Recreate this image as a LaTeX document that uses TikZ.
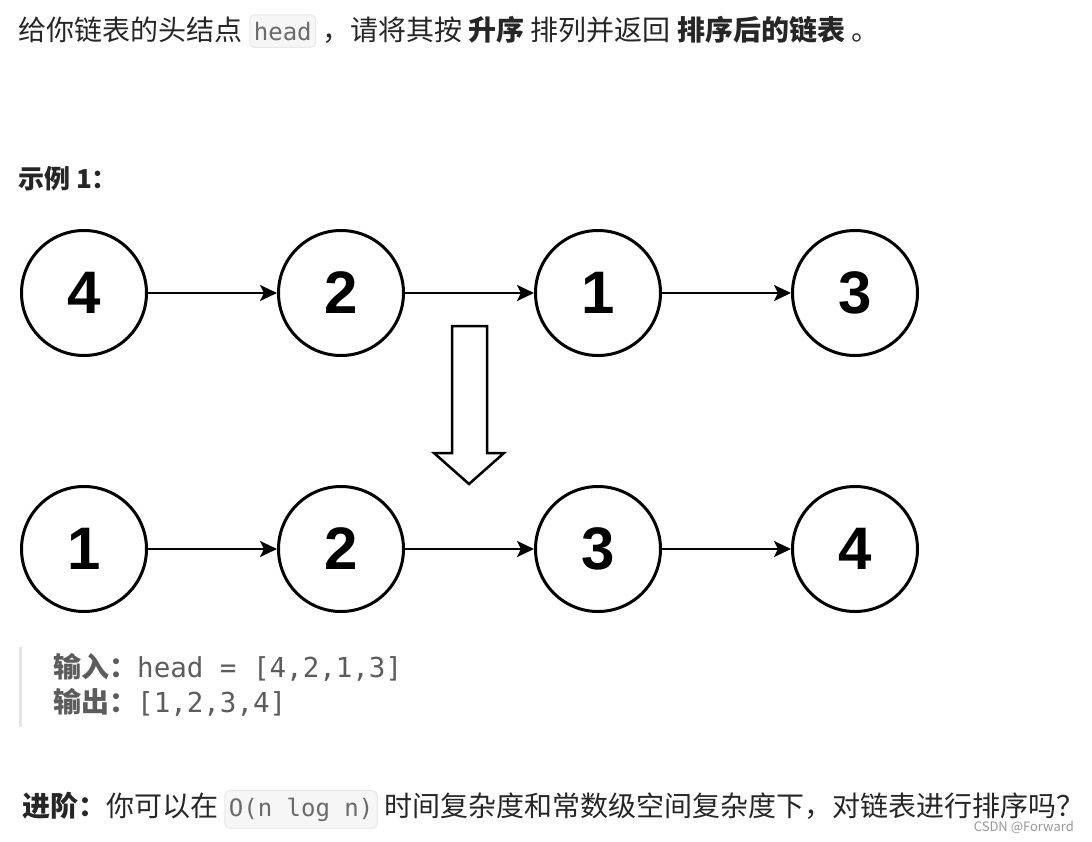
\documentclass[tikz,border=0pt]{standalone}
\usepackage{fontspec}
\setmainfont{Noto Sans CJK SC}
\setmonofont{DejaVu Sans Mono}
\newfontfamily\numfont{Liberation Sans}
\definecolor{Ink}{HTML}{262626}
\definecolor{Quote}{HTML}{5C5C5C}
\definecolor{QuoteBar}{HTML}{E4E4E4}
\definecolor{CodeFill}{HTML}{F6F6F6}
\definecolor{CodeLine}{HTML}{E8E8E8}
\definecolor{CodeText}{HTML}{6A6A6A}
\usetikzlibrary{arrows.meta,positioning}

\begin{document}
\begin{tikzpicture}[
  x=1pt,y=-1pt,
  txt/.style={inner sep=0pt,text=Ink,font=\fontsize{28}{32}\selectfont},
  quote/.style={inner sep=0pt,text=Quote,font=\fontsize{28}{32}\selectfont},
  code/.style={rounded corners=5pt,fill=CodeFill,draw=CodeLine,line width=1pt,
    text=CodeText,inner xsep=4pt,inner ysep=7pt,font=\ttfamily\fontsize{24}{28}\selectfont},
  listnode/.style={circle,draw=black,line width=3pt,minimum size=125pt,inner sep=0pt,
    font=\numfont\bfseries\fontsize{60}{60}\selectfont},
  arrow/.style={-{Stealth[length=17pt,width=16pt,inset=4pt]},line width=2.7pt,draw=black},
  hollow/.style={draw=black,line width=2.5pt,fill=white,line join=miter}
]
\fill[white] (0,0) rectangle (1092,841);
\useasboundingbox (0,0) rectangle (1092,841);

% problem statement
\node[txt,anchor=base west] (introa) at (18,40) {给你链表的头结点};
\node[code,anchor=base west] (headcode) at ([xshift=7pt]introa.base east) {head};
\node[txt,anchor=base west] (introb) at ([xshift=6pt]headcode.base east)
  {，请将其按 \textbf{升序} 排列并返回 \textbf{排序后的链表} 。};

\node[txt,anchor=base west,font=\bfseries\fontsize{26}{30}\selectfont] (example) at (18,188) {示例 1：};

% input list
\node[listnode] (in1) at (84,293) {4};
\node[listnode,right=129pt of in1] (in2) {2};
\node[listnode,right=129pt of in2] (in3) {1};
\node[listnode,right=129pt of in3] (in4) {3};

% sorted list
\node[listnode] (out1) at (84,549) {1};
\node[listnode,right=129pt of out1] (out2) {2};
\node[listnode,right=129pt of out2] (out3) {3};
\node[listnode,right=129pt of out3] (out4) {4};

\draw[arrow] (in1) -- (in2);
\draw[arrow] (in2) -- (in3);
\draw[arrow] (in3) -- (in4);
\draw[arrow] (out1) -- (out2);
\draw[arrow] (out2) -- (out3);
\draw[arrow] (out3) -- (out4);

% sort arrow
\draw[hollow] (452,326) -- (487,326) -- (487,453) -- (504,453) -- (469,484)
  -- (434,453) -- (452,453) -- cycle;

% input / output block
\fill[QuoteBar] (18.5,647) rectangle (21.5,727);
\node[quote,anchor=base west] (inputline) at (53,677)
  {\textbf{输入：}\texttt{\fontsize{27.5}{32}\selectfont head = [4,2,1,3]}};
\node[quote,anchor=base west] (outputline) at (53,712)
  {\textbf{输出：}\texttt{\fontsize{27.5}{32}\selectfont [1,2,3,4]}};

% follow-up
\node[txt,anchor=base west] (followa) at (22,816) {\textbf{进阶：}你可以在};
\node[code,anchor=base west] (bigo) at ([xshift=6pt]followa.base east) {O(n log n)};
\node[txt,anchor=base west] (followb) at ([xshift=6pt]bigo.base east)
  {时间复杂度和常数级空间复杂度下，对链表进行排序吗？};

\node[anchor=base east,inner sep=0pt,text=gray!80,font=\fontsize{13}{15}\selectfont]
  (mark) at (1074,831) {CSDN @Forward};
\end{tikzpicture}
\end{document}
